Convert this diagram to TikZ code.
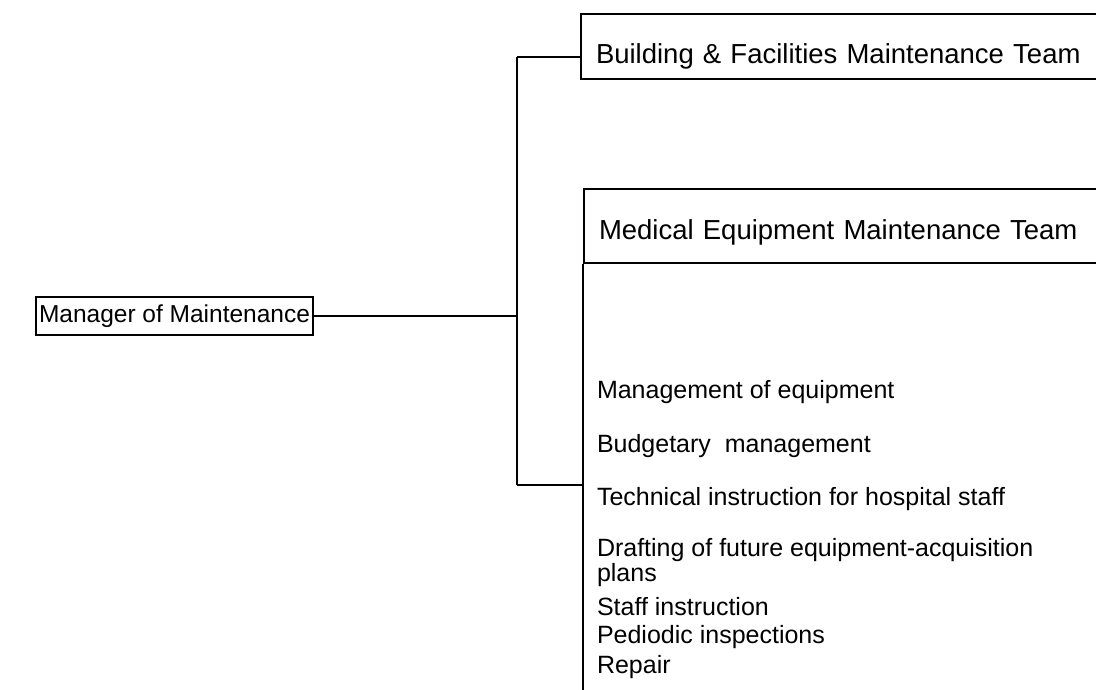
\documentclass[tikz,border=0pt]{standalone}
\usepackage{fontspec}
\setmainfont{Liberation Sans}

\begin{document}
\begin{tikzpicture}[
		x=1pt, y=-1pt,
		line width=2pt,
		unitbox/.style={draw, line width=2pt, inner ysep=0pt, align=left},
		teambox/.style={unitbox, anchor=north west, text width=540pt, inner xsep=15pt,
			font=\fontsize{27.5}{32}\selectfont},
		duty/.style={anchor=west, inner sep=0pt, font=\fontsize{25}{30}\selectfont}
		]
		
		\useasboundingbox (0,0) rectangle (1096,690);
		\clip (0,0) rectangle (1096,690);
		
		% ---------------------------------------------------------
		% Manager and the spine
		% ---------------------------------------------------------
		\node[unitbox, anchor=west, minimum height=38pt, inner xsep=3pt,
			font=\fontsize{24.5}{28}\selectfont] (mgr) at (35,316) {Manager of Maintenance};
		
		\coordinate (spinetop) at (517,57);
		\coordinate (spinebot) at (517,485);
		
		\draw (mgr.east) -- (mgr.east -| spinetop);
		\draw (spinetop) -- (spinebot);
		
		% ---------------------------------------------------------
		% Teams
		% ---------------------------------------------------------
		\node[teambox, minimum height=65pt, text height=50pt, text depth=15pt] (bldg) at (580,13)
			{Building \& Facilities Maintenance Team};
		\draw (spinetop) -- (spinetop -| bldg.west);
		
		\node[teambox, minimum height=74pt, text height=51pt, text depth=23pt] (medhead) at (583,188)
			{Medical Equipment Maintenance Team};
		\draw (medhead.south west) -- ++(0,460);
		\draw (spinebot) -- (spinebot -| medhead.west);
		
		% Duties of the medical team
		\foreach \y/\txt [count=\i] in {
				392/Management of equipment,
				446/Budgetary\ \ management,
				499/Technical instruction for hospital staff,
				550/Drafting of future equipment-acquisition,
				575/plans,
				607/Staff instruction,
				637/Pediodic inspections,
				667/Repair} {
			\node[duty] (duty\i) at (596,\y) {\txt};
		}
		
	\end{tikzpicture}
\end{document}
